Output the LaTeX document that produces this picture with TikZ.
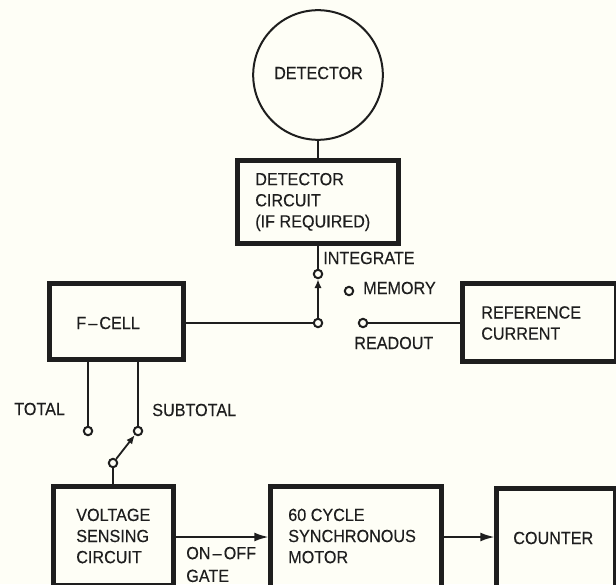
\documentclass[tikz,border=0pt]{standalone}
\usepackage{fontspec}
\setmainfont[FakeStretch=0.92, FakeBold=0.25]{Liberation Sans}
\usetikzlibrary{shapes.geometric, positioning, arrows.meta}
\definecolor{paper}{RGB}{254, 254, 246}
\definecolor{ink}{RGB}{30, 30, 30}
\tikzset{
  blockbox/.style={rectangle, draw=ink, line width=1.25mm},
  blocktext/.style={anchor=west, align=left, inner sep=0pt, text=ink, font=\fontsize{12.5}{15}\selectfont},
  terminal/.style={circle, draw=ink, fill=paper, line width=0.5mm, minimum size=2.1mm, inner sep=0pt},
  wire/.style={draw=ink, line width=0.45mm},
  arrow/.style={wire, -{Latex[length=2.2mm, width=1.8mm]}},
  bigarrow/.style={wire, -{Latex[length=3.5mm, width=2.2mm]}}
}

\begin{document}
\begin{tikzpicture}[x=0.025cm, y=-0.025cm]

    % Papel
    \clip (0,0) rectangle (616,584);
    \fill[paper] (0,0) rectangle (616,584);

    % 1. Detector
    \node[circle, draw=ink, line width=0.5mm, minimum size=32.4mm, inner sep=0pt] (detector) at (318,75) {};
    \node[blocktext, anchor=center] (detectortext) at (318.5,73) {DETECTOR};

    \node[blockbox, minimum width=40mm, minimum height=20.9mm] (dcircuit) at (318,202) {};
    \node[blocktext] (dcircuittext) at (255,202) {DETECTOR\\CIRCUIT\\(IF REQUIRED)};

    % 2. Bloques de la fila media
    \node[blockbox, minimum width=33.5mm, minimum height=18.75mm] (ecell) at (116.5,321.5) {};
    \node[blocktext] (ecelltext) at (76,323) {F\kern1.5pt--\kern1.5pt CELL};

    \node[blockbox, minimum width=38.25mm, minimum height=19.25mm] (refcurrent) at (539.5,322.5) {};
    \node[blocktext] (refcurrenttext) at (481,323) {REFERENCE\\CURRENT};

    % 3. Bloques inferiores
    \node[blockbox, minimum width=29.75mm, minimum height=24.5mm] (vsensing) at (113.5,536) {};
    \node[blocktext] (vsensingtext) at (76,536) {VOLTAGE\\SENSING\\CIRCUIT};

    \node[blockbox, minimum width=42.5mm, minimum height=25mm] (motor) at (356,537) {};
    \node[blocktext] (motortext) at (288,536) {60 CYCLE\\SYNCHRONOUS\\MOTOR};

    \node[blockbox, minimum width=29.5mm, minimum height=25mm] (counter) at (556,539) {};
    \node[blocktext] (countertext) at (513,538) {COUNTER};

    % 4. Terminales
    \node[terminal] (tintegrate) at (318,274) {};
    \node[terminal] (tpivot) at (318,323) {};
    \node[terminal] (treadout) at (363,323) {};
    \node[terminal] (tmemory) at (349,291) {};
    \node[terminal] (ttotal) at (88,431) {};
    \node[terminal] (tsubtotal) at (138,431) {};
    \node[terminal] (tswitch) at (113,463) {};

    % 5. Conexiones
    \draw[wire] (detector.south) -- (dcircuit.north);
    \draw[wire] (dcircuit.south) -- (tintegrate);
    \draw[arrow] (tpivot) -- (tintegrate);
    \draw[wire] (tpivot -| ecell.east) -- (tpivot);
    \draw[wire] (treadout) -- (treadout -| refcurrent.west);
    \draw[wire] (ttotal |- ecell.south) -- (ttotal);
    \draw[wire] (tsubtotal |- ecell.south) -- (tsubtotal);
    \draw[arrow] (tswitch) -- (tsubtotal);
    \draw[wire] (tswitch) -- (tswitch |- vsensing.north);
    \draw[bigarrow] (vsensing.east |- motor.west) -- (motor.west);
    \draw[bigarrow] (motor.east) -- (motor.east -| counter.west);

    % 6. Rotulos
    \node[blocktext] (integratelabel) at (323,258) {INTEGRATE};
    \node[blocktext] (memorylabel) at (363,288) {MEMORY};
    \node[blocktext] (readoutlabel) at (354,343) {READOUT};
    \node[blocktext] (totallabel) at (14,409) {TOTAL};
    \node[blocktext] (subtotallabel) at (152,410) {SUBTOTAL};
    \node[blocktext, font=\fontsize{12.5}{16.2}\selectfont] (gatelabel) at (186,564.5) {ON\kern1.5pt--\kern1.5pt OFF\\GATE};

\end{tikzpicture}
\end{document}
